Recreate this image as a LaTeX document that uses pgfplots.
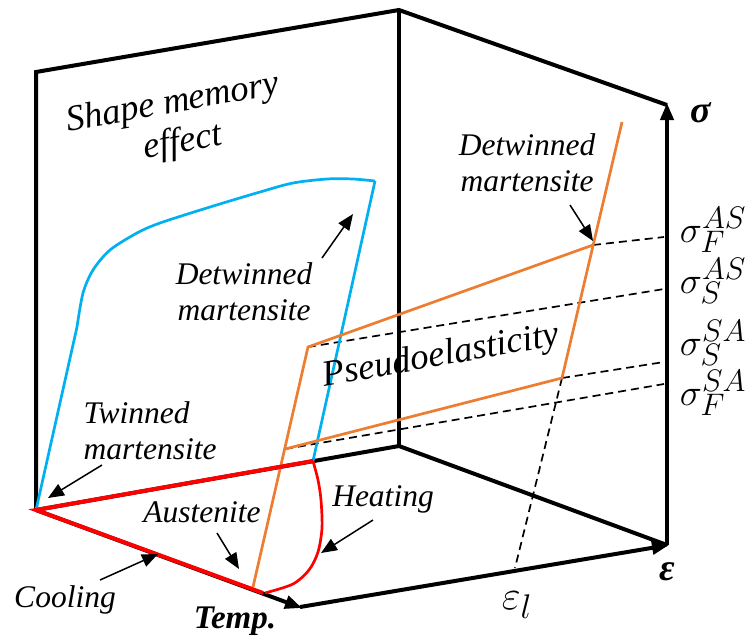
\documentclass[border=0pt]{standalone}
\usepackage{pgfplots}
\pgfplotsset{compat=1.18}
\usepackage{fontspec}
\setmainfont{Liberation Serif}
\usetikzlibrary{arrows.meta}
\definecolor{cblue}{RGB}{0,176,240}
\definecolor{corange}{RGB}{237,125,49}
\definecolor{cred}{RGB}{255,0,0}
\newcommand\txt{\fontsize{31.5}{36}\selectfont\itshape}
\newcommand\bigtxt{\fontsize{36.5}{40}\selectfont\itshape}
\begin{document}
\begin{tikzpicture}
\begin{axis}[scale only axis, width=746pt, height=641pt,
  xmin=0, xmax=746, ymin=0, ymax=641, y dir=reverse,
  hide axis, clip=false]
% box
\addplot[black, line width=4pt] coordinates {(36,510) (36,72) (399,10) (667,105)};
\addplot[black, line width=4pt] coordinates {(399,10) (399,446)};
\addplot[black, line width=4pt] coordinates {(36,510) (399,446) (667,545)};
\addplot[black, line width=4pt, -{Triangle[length=17pt,width=13pt]}] coordinates {(667,545) (667,103)};
\addplot[black, line width=4pt, -{Triangle[length=17pt,width=13pt]}] coordinates {(36,510) (302,608)};
\addplot[black, line width=4pt, -{Triangle[length=17pt,width=13pt]}] coordinates {(300,607) (669,545)};
% dashed
\addplot[black, line width=1.7pt, dash pattern=on 8pt off 5pt] coordinates {(593,245) (664,237)};
\addplot[black, line width=1.7pt, dash pattern=on 8pt off 5pt] coordinates {(308,347) (664,289)};
\addplot[black, line width=1.7pt, dash pattern=on 8pt off 5pt] coordinates {(562,378) (664,362)};
\addplot[black, line width=1.7pt, dash pattern=on 8pt off 5pt] coordinates {(285,449) (664,384)};
\addplot[black, line width=1.7pt, dash pattern=on 8pt off 5pt] coordinates {(562,378) (515,568)};
% blue
\addplot[cblue, line width=2.7pt] coordinates {(36,510) (77,327)};
\addplot[cblue, line width=2.7pt, smooth] coordinates {(77,327) (83,293) (93,270) (110,250) (137,233) (160,223) (210,207) (260,192) (293,183) (327,179) (353,179) (375,181)};
\addplot[cblue, line width=2.7pt] coordinates {(375,181) (313,461)};
% orange
\addplot[corange, line width=2.7pt] coordinates {(253,587) (308,347) (593,245)};
\addplot[corange, line width=2.7pt] coordinates {(622,122) (562,378) (285,449)};
% red
\addplot[cred, line width=4pt] coordinates {(263,593) (36,510) (313,461)};
\addplot[cred, line width=2.7pt, smooth] coordinates {(313,461) (318,480) (321,500) (322,528) (318,552) (309,570) (293,584) (265,593)};
% thin arrows
\addplot[black, line width=1.5pt, -{Triangle[length=16pt,width=13pt]}] coordinates {(322,258) (353,214)};
\addplot[black, line width=1.5pt, -{Triangle[length=16pt,width=13pt]}] coordinates {(570,205) (593,241)};
\addplot[black, line width=1.5pt, -{Triangle[length=16pt,width=13pt]}] coordinates {(102,465) (48,498)};
\addplot[black, line width=1.5pt, -{Triangle[length=16pt,width=13pt]}] coordinates {(100,580) (158,554)};
\addplot[black, line width=1.5pt, -{Triangle[length=16pt,width=13pt]}] coordinates {(217,533) (239,569)};
\addplot[black, line width=1.5pt, -{Triangle[length=16pt,width=13pt]}] coordinates {(373,520) (321,553)};
% texts
\node[font=\bigtxt, rotate=10] at (173,104) {Shape memory};
\node[font=\bigtxt, rotate=10] at (183,143) {effect};
\node[font=\txt, align=center] at (244,292) {Detwinned\\martensite};
\node[font=\txt, align=center] at (527,163) {Detwinned\\martensite};
\node[font=\bigtxt, rotate=10] at (441,357) {Pseudoelasticity};
\node[font=\txt, align=left, anchor=west] at (80,431) {Twinned\\martensite};
\node[font=\txt] at (202,512) {Austenite};
\node[font=\txt] at (383,499) {Heating};
\node[font=\txt] at (65,600) {Cooling};
\node[font=\fontsize{33}{36}\selectfont\bfseries\itshape] at (235,621) {Temp.};
\node[font=\fontsize{38}{42}\selectfont\bfseries\itshape] at (701,113) {σ};
\node[font=\fontsize{38}{42}\selectfont\bfseries\itshape] at (667,572) {ε};
\node[font=\Huge, scale=1.65] at (517,605) {$\varepsilon_l$};
\node[font=\Huge, scale=1.5] at (713,230) {$\sigma_F^{AS}$};
\node[font=\Huge, scale=1.5] at (713,281) {$\sigma_S^{AS}$};
\node[font=\Huge, scale=1.5] at (713,343) {$\sigma_S^{SA}$};
\node[font=\Huge, scale=1.5] at (713,393) {$\sigma_F^{SA}$};
\end{axis}
\pgfresetboundingbox
\path (current axis.south west) rectangle (current axis.north east);
\end{tikzpicture}
\end{document}
